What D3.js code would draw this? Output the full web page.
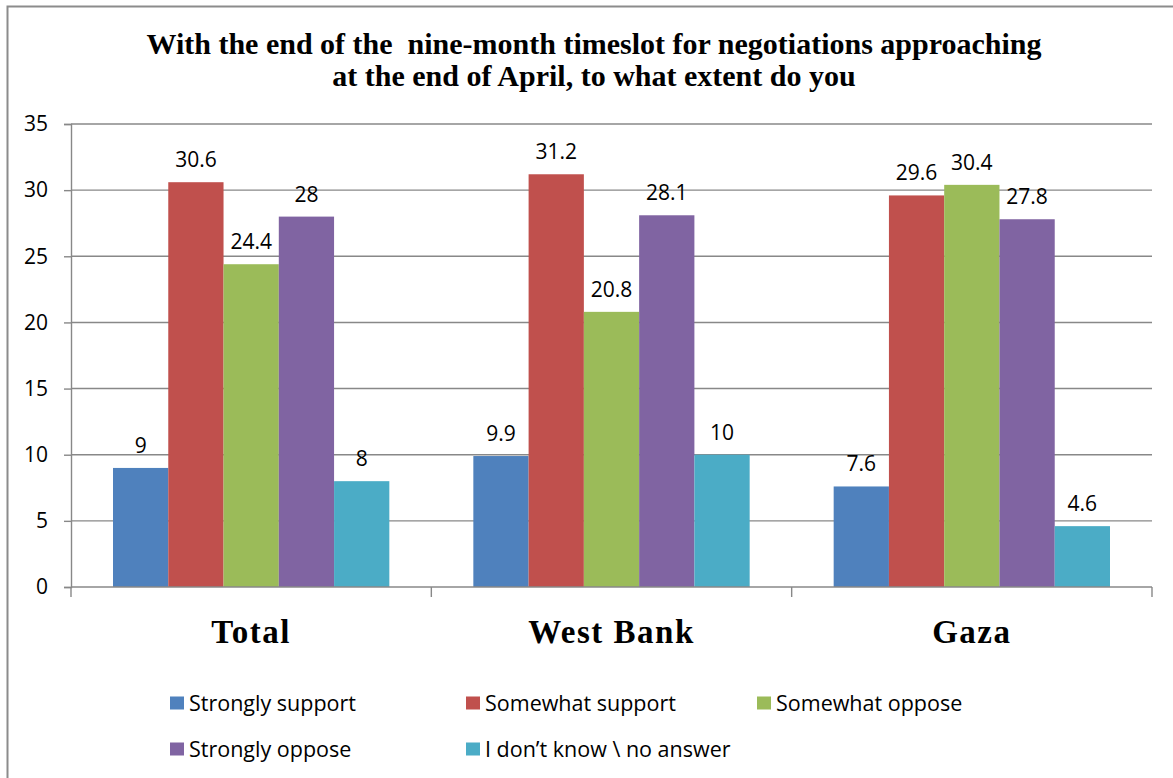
<!DOCTYPE html>
<html><head><meta charset="utf-8">
<script src="https://cdn.jsdelivr.net/npm/d3@7"></script>
<style>body{margin:0;background:#fff}svg{display:block}</style>
</head><body>
<svg id="chart" width="1173" height="778"></svg>
<script>
const categories = ["Total", "West Bank", "Gaza"];
const seriesNames = ["Strongly support", "Somewhat support", "Somewhat oppose", "Strongly oppose", "I don\u2019t know \\ no answer"];
const strongSupport = [9, 9.9, 7.6];
const someSupport = [30.6, 31.2, 29.6];
const someOppose = [24.4, 20.8, 30.4];
const strongOppose = [28, 28.1, 27.8];
const dontKnow = [8, 10, 4.6];
const yTicks = [0, 5, 10, 15, 20, 25, 30, 35];
const colors = ["#4f81bd", "#c0504d", "#9bbb59", "#8064a2", "#4bacc6"];
const titleLines = ["With the end of the  nine-month timeslot for negotiations approaching", "at the end of April, to what extent do you"];

const series = [strongSupport, someSupport, someOppose, strongOppose, dontKnow];
const svg = d3.select("#chart");
const L = 71, R = 1152, T = 124, B = 587;

svg.append("rect").attr("x", 7.5).attr("y", 6.5).attr("width", 1200).attr("height", 800)
  .attr("fill", "none").attr("stroke", "#8c8c8c").attr("stroke-width", 2);

const title = svg.append("text").attr("text-anchor", "middle")
  .attr("font-family", "Liberation Serif").attr("font-weight", "bold").attr("font-size", 30).attr("fill", "#000");
titleLines.forEach((t, i) => title.append("tspan").attr("x", 594).attr("y", 54 + i * 32).style("white-space","pre").text(t));

const y = d3.scaleLinear().domain([0, 35]).range([B, T]);
const x0 = d3.scaleBand().domain(categories).range([L, R]).paddingInner(0).paddingOuter(0);
const x1 = d3.scaleBand().domain(d3.range(5)).range([0, x0.bandwidth()]).paddingOuter(0.76).paddingInner(0);

// gridlines
svg.append("g").selectAll("line").data(yTicks.filter(d => d > 0)).join("line")
  .attr("x1", L).attr("x2", R).attr("y1", d => y(d)).attr("y2", d => y(d))
  .attr("stroke", "#888888").attr("stroke-width", 1.4);

// y axis
const yAxis = svg.append("g").attr("transform", `translate(${L},0)`)
  .call(d3.axisLeft(y).tickValues(yTicks).tickSize(7).tickPadding(16));
yAxis.select(".domain").attr("stroke", "#888888").attr("stroke-width", 1.4);
yAxis.selectAll(".tick line").attr("stroke", "#888888").attr("stroke-width", 1.4);
yAxis.selectAll(".tick text").attr("font-family", "Open Sans").attr("font-size", 21).attr("fill", "#000");

// bars
categories.forEach((c, ci) => {
  series.forEach((s, si) => {
    svg.append("rect")
      .attr("x", x0(c) + x1(si)).attr("y", y(s[ci]))
      .attr("width", x1.bandwidth()).attr("height", B - y(s[ci]))
      .attr("fill", colors[si]);
    svg.append("text")
      .attr("x", x0(c) + x1(si) + x1.bandwidth() / 2).attr("y", y(s[ci]) - 15)
      .attr("text-anchor", "middle").attr("font-family", "Open Sans").attr("font-size", 21)
      .attr("fill", "#000").text(s[ci]);
  });
});

// x axis
const xAxis = svg.append("g").attr("transform", `translate(0,${B})`);
xAxis.append("line").attr("x1", L).attr("x2", R).attr("stroke", "#888888").attr("stroke-width", 1.4);
xAxis.selectAll(".tk").data([L, ...categories.map(c => x0(c) + x0.bandwidth())]).join("line")
  .attr("x1", d => d).attr("x2", d => d).attr("y1", 0).attr("y2", 10)
  .attr("stroke", "#888888").attr("stroke-width", 1.4);
xAxis.selectAll(".cl").data(categories).join("text")
  .attr("x", d => x0(d) + x0.bandwidth() / 2).attr("y", 56)
  .attr("text-anchor", "middle").attr("font-family", "Liberation Serif").attr("font-weight", "bold")
  .attr("font-size", 33).attr("letter-spacing", 1.5).attr("fill", "#000").text(d => d);

// legend
const legPos = [[170, 703], [466, 703], [757, 703], [170, 749], [466, 749]];
seriesNames.forEach((n, i) => {
  const g = svg.append("g").attr("transform", `translate(${legPos[i][0]},${legPos[i][1]})`);
  g.append("rect").attr("x", 0).attr("y", -6.5).attr("width", 14).attr("height", 13).attr("fill", colors[i]);
  g.append("text").attr("x", 19).attr("y", 8).attr("font-family", "Open Sans").attr("font-size", 21.5)
    .attr("fill", "#000").text(n);
});
</script>
</body></html>
